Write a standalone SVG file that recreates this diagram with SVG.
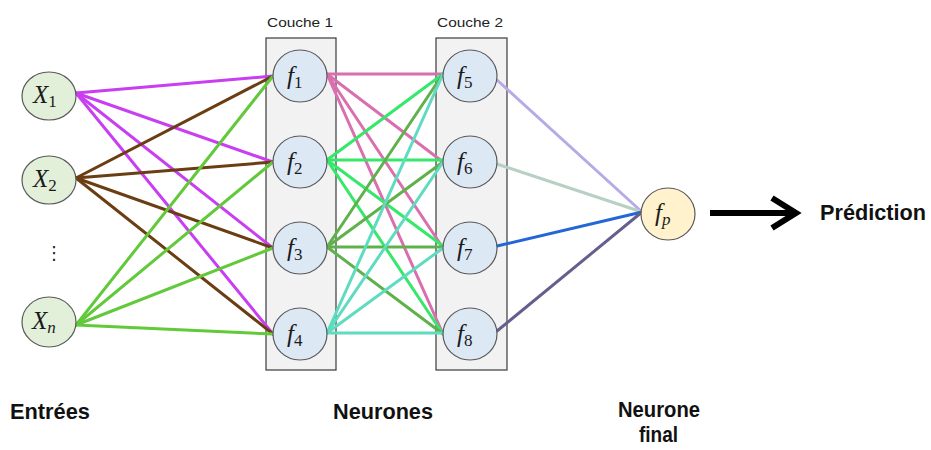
<svg xmlns="http://www.w3.org/2000/svg" width="931" height="450" viewBox="0 0 931 450">
<style>
.box{fill:#f2f2f2;stroke:#3a3a3a;stroke-width:1.2}
.in{fill:#e2efd9;stroke:#595959;stroke-width:1.2}
.hid{fill:#dde8f5;stroke:#595959;stroke-width:1.2}
.out{fill:#fff2cc;stroke:#595959;stroke-width:1.2}
.e{fill:none;stroke-width:3;stroke-linecap:round}
.m{font-family:"Liberation Serif","DejaVu Serif",serif;font-style:italic;font-size:25px;fill:#1a1a1a}
.sub{font-style:normal;font-size:17px}
.lay{font-family:"Liberation Sans",Arial,sans-serif;font-size:13.5px;fill:#222}
.lab{font-family:"Liberation Sans",Arial,sans-serif;font-weight:bold;font-size:22px;fill:#111}
.c1{stroke:#c83ef0}.c2{stroke:#6b3d12}.c3{stroke:#62c93a}
.c4{stroke:#d96fae}.c5{stroke:#35e86a}.c6{stroke:#5fb24b}.c7{stroke:#5fdcc0}
</style>
<g id="layer1-box"><rect class="box" x="266" y="38" width="70" height="332"/><text class="lay" x="267" y="27" textLength="66" lengthAdjust="spacingAndGlyphs">Couche 1</text></g>
<g id="layer2-box"><rect class="box" x="436" y="38" width="71" height="332"/><text class="lay" x="437" y="27" textLength="66" lengthAdjust="spacingAndGlyphs">Couche 2</text></g>
<g id="connectors">
<line class="e c1" x1="76" y1="93" x2="273" y2="76"/>
<line class="e c1" x1="76" y1="93" x2="273" y2="162"/>
<line class="e c1" x1="76" y1="93" x2="273" y2="248"/>
<line class="e c1" x1="76" y1="93" x2="273" y2="334"/>
<line class="e c2" x1="76" y1="178" x2="273" y2="76"/>
<line class="e c2" x1="76" y1="178" x2="273" y2="162"/>
<line class="e c2" x1="76" y1="178" x2="273" y2="248"/>
<line class="e c2" x1="76" y1="178" x2="273" y2="334"/>
<line class="e c3" x1="76" y1="325" x2="273" y2="76"/>
<line class="e c3" x1="76" y1="325" x2="273" y2="162"/>
<line class="e c3" x1="76" y1="325" x2="273" y2="248"/>
<line class="e c3" x1="76" y1="325" x2="273" y2="334"/>
<line class="e c4" x1="327" y1="74" x2="443" y2="74"/>
<line class="e c4" x1="327" y1="74" x2="443" y2="162"/>
<line class="e c4" x1="327" y1="74" x2="443" y2="248"/>
<line class="e c4" x1="327" y1="74" x2="443" y2="334"/>
<line class="e c5" x1="327" y1="160" x2="443" y2="74"/>
<line class="e c5" x1="327" y1="160" x2="443" y2="160"/>
<line class="e c5" x1="327" y1="160" x2="443" y2="246"/>
<line class="e c5" x1="327" y1="160" x2="443" y2="334"/>
<line class="e c6" x1="327" y1="247" x2="443" y2="74"/>
<line class="e c6" x1="327" y1="247" x2="443" y2="162"/>
<line class="e c6" x1="327" y1="247" x2="443" y2="247"/>
<line class="e c6" x1="327" y1="247" x2="443" y2="334"/>
<line class="e c7" x1="327" y1="333" x2="443" y2="74"/>
<line class="e c7" x1="327" y1="333" x2="443" y2="162"/>
<line class="e c7" x1="327" y1="333" x2="443" y2="248"/>
<line class="e c7" x1="327" y1="333" x2="443" y2="333"/>
<line class="e" stroke="#b7aae6" stroke-width="2.5" x1="497" y1="80" x2="642" y2="212"/>
<line class="e" stroke="#b6d0c3" stroke-width="2.5" x1="497" y1="164" x2="642" y2="212"/>
<line class="e" stroke="#2266d8" stroke-width="2.5" x1="497" y1="246" x2="642" y2="212"/>
<line class="e" stroke="#645f8c" stroke-width="2.5" x1="497" y1="331" x2="642" y2="212"/>
<g id="output-arrow" stroke="#000" stroke-width="6" fill="none" stroke-linecap="butt" stroke-linejoin="miter">
<line x1="710" y1="213" x2="794" y2="213"/>
<polyline points="772,198 796,213 772,228"/>
</g>
</g>
<g id="x1"><ellipse class="in" cx="49" cy="96" rx="27" ry="24"/><text class="m" x="33" y="103">X<tspan class="sub" dy="4">1</tspan></text></g>
<g id="x2"><ellipse class="in" cx="49" cy="180" rx="27" ry="24"/><text class="m" x="33" y="187">X<tspan class="sub" dy="4">2</tspan></text></g>
<g id="dots"><text x="45" y="259" style="font-family:'DejaVu Sans',sans-serif;font-size:18px;fill:#222">⋮</text></g>
<g id="xn"><ellipse class="in" cx="49" cy="322" rx="27" ry="25"/><text class="m" x="32" y="329">X<tspan class="sub" dy="4" style="font-style:italic">n</tspan></text></g>
<g id="f1"><ellipse class="hid" cx="300" cy="76" rx="27" ry="26"/><text class="m" x="287" y="84">f<tspan class="sub" dy="4">1</tspan></text></g>
<g id="f2"><ellipse class="hid" cx="300" cy="162" rx="27" ry="26"/><text class="m" x="287" y="170">f<tspan class="sub" dy="4">2</tspan></text></g>
<g id="f3"><ellipse class="hid" cx="300" cy="248" rx="27" ry="26"/><text class="m" x="287" y="256">f<tspan class="sub" dy="4">3</tspan></text></g>
<g id="f4"><ellipse class="hid" cx="300" cy="334" rx="27" ry="26"/><text class="m" x="287" y="342">f<tspan class="sub" dy="4">4</tspan></text></g>
<g id="f5"><ellipse class="hid" cx="470" cy="76" rx="27" ry="26"/><text class="m" x="457" y="84">f<tspan class="sub" dy="4">5</tspan></text></g>
<g id="f6"><ellipse class="hid" cx="470" cy="162" rx="27" ry="26"/><text class="m" x="457" y="170">f<tspan class="sub" dy="4">6</tspan></text></g>
<g id="f7"><ellipse class="hid" cx="470" cy="248" rx="27" ry="26"/><text class="m" x="457" y="256">f<tspan class="sub" dy="4">7</tspan></text></g>
<g id="f8"><ellipse class="hid" cx="470" cy="334" rx="27" ry="26"/><text class="m" x="457" y="342">f<tspan class="sub" dy="4">8</tspan></text></g>
<g id="fp"><ellipse class="out" cx="668" cy="214" rx="27" ry="26"/><text class="m" x="655" y="221">f<tspan class="sub" dy="4" style="font-style:italic">p</tspan></text></g>
<g id="labels">
<text class="lab" x="820" y="220" textLength="106" lengthAdjust="spacingAndGlyphs">Prédiction</text>
<text class="lab" x="10" y="419" textLength="80" lengthAdjust="spacingAndGlyphs">Entrées</text>
<text class="lab" x="333" y="419" textLength="100" lengthAdjust="spacingAndGlyphs">Neurones</text>
<text class="lab" x="618" y="417" textLength="82" lengthAdjust="spacingAndGlyphs">Neurone</text>
<text class="lab" x="639" y="442" font-size="21" textLength="39" lengthAdjust="spacingAndGlyphs">final</text>
</g>
</svg>
